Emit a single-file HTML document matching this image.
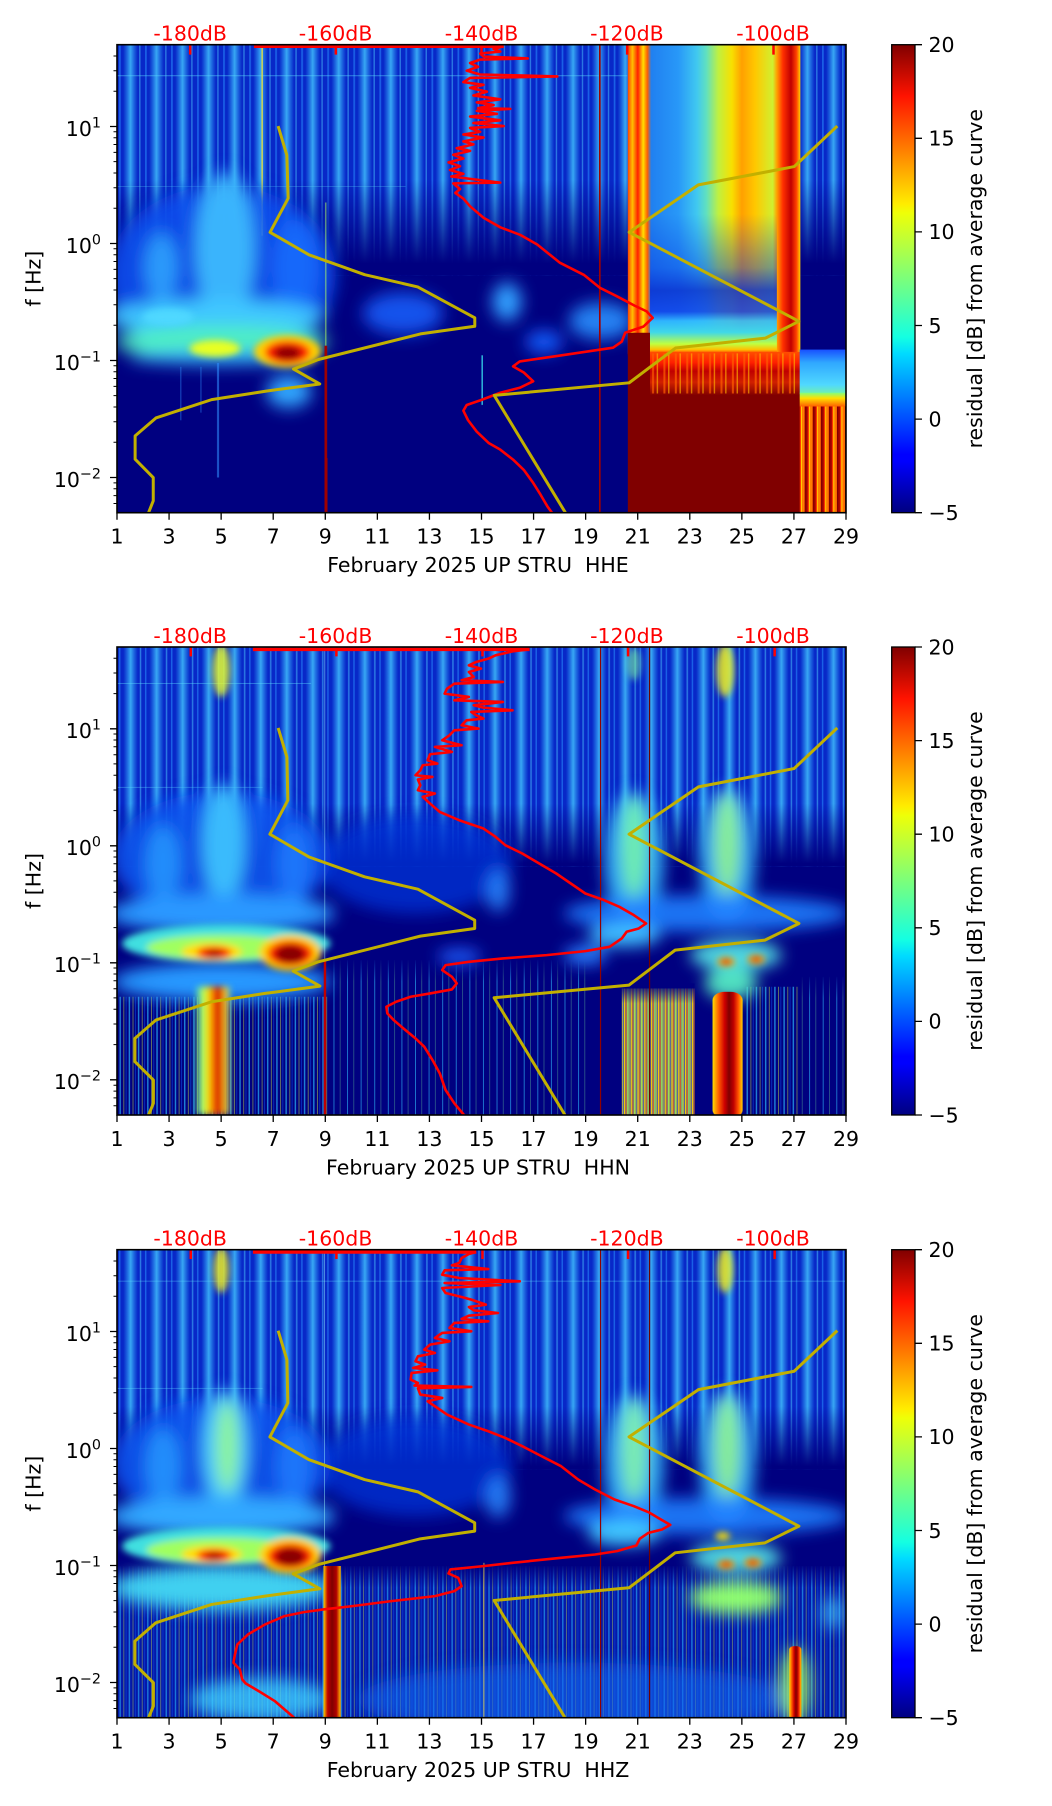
<!DOCTYPE html>
<html><head><meta charset="utf-8">
<style>
html,body{margin:0;padding:0;background:#fff;width:1052px;height:1806px;overflow:hidden}
svg{display:block}
text{font-family:"DejaVu Sans","Liberation Sans",sans-serif;font-size:20.5px;fill:#000}
text.rd{fill:#ff0000}
</style></head><body>
<svg xmlns="http://www.w3.org/2000/svg" width="1052" height="1806" viewBox="0 0 1052 1806">
<defs>
<linearGradient id="jet" x1="0" y1="0" x2="0" y2="1">
<stop offset="0" stop-color="#800000"/><stop offset=".11" stop-color="#ff1300"/><stop offset=".34" stop-color="#ffec00"/><stop offset=".36" stop-color="#eeff08"/><stop offset=".5" stop-color="#7bff7b"/><stop offset=".625" stop-color="#14ffe2"/><stop offset=".66" stop-color="#00dbff"/><stop offset=".875" stop-color="#0000ff"/><stop offset=".89" stop-color="#0000ff"/><stop offset="1" stop-color="#000080"/>
</linearGradient>
<linearGradient id="sh"><stop offset="0" stop-color="#30b0ff" stop-opacity="0"/><stop offset=".5" stop-color="#44c8ff" stop-opacity=".8"/><stop offset="1" stop-color="#30b0ff" stop-opacity="0"/></linearGradient>
<pattern id="p1" patternUnits="userSpaceOnUse" x="174" y="0" width="38.79" height="1400">
<rect x="9" y="0" width="22" height="1400" fill="url(#sh)"/>
<rect x="3" y="0" width="2.5" height="1400" fill="#2a90ff" opacity=".55"/>
<rect x="33" y="0" width="2" height="1400" fill="#50d0ff" opacity=".5"/>
</pattern>
<pattern id="p2" patternUnits="userSpaceOnUse" x="35" y="0" width="53.64" height="1500">
<rect x="13" y="0" width="30" height="1500" fill="url(#sh)"/>
<rect x="4" y="0" width="3" height="1500" fill="#2a90ff" opacity=".55"/>
<rect x="47" y="0" width="3" height="1500" fill="#50d0ff" opacity=".5"/>
</pattern>
<pattern id="pl" patternUnits="userSpaceOnUse" x="0" y="0" width="19" height="1500">
<rect x="2" y="0" width="3" height="1500" fill="#30c0ff" opacity=".65"/>
<rect x="10" y="0" width="2" height="1500" fill="#e0ff40" opacity=".45"/>
<rect x="15" y="0" width="1.5" height="1500" fill="#1060ff" opacity=".6"/>
</pattern>
<pattern id="ps" patternUnits="userSpaceOnUse" x="0" y="0" width="28" height="1500">
<rect x="5" y="0" width="2" height="1500" fill="#30c0ff" opacity=".6"/>
<rect x="18" y="0" width="1.5" height="1500" fill="#80ffa0" opacity=".4"/>
</pattern>
<pattern id="py" patternUnits="userSpaceOnUse" x="0" y="0" width="14" height="1500">
<rect x="0" y="0" width="14" height="1500" fill="#1840d0"/>
<rect x="1" y="0" width="3" height="1500" fill="#ffd000"/>
<rect x="5" y="0" width="2" height="1500" fill="#ff7000"/>
<rect x="8" y="0" width="2.5" height="1500" fill="#b0ff40"/>
<rect x="11.5" y="0" width="1.5" height="1500" fill="#ffe800"/>
</pattern>
<pattern id="pr" patternUnits="userSpaceOnUse" x="0" y="0" width="12" height="1500">
<rect x="0" y="0" width="12" height="1500" fill="#ff3800"/>
<rect x="0" y="0" width="3" height="1500" fill="#a00000"/>
<rect x="5" y="0" width="2" height="1500" fill="#ffd000"/>
<rect x="8" y="0" width="2" height="1500" fill="#ff8800"/>
<rect x="10.5" y="0" width="1.5" height="1500" fill="#800000"/>
</pattern>
<pattern id="po" patternUnits="userSpaceOnUse" x="0" y="0" width="17" height="1500">
<rect x="2" y="0" width="3" height="1500" fill="#ff6000"/>
<rect x="9" y="0" width="2" height="1500" fill="#ffb000"/>
</pattern>
<filter id="a1" x="-50%" y="-50%" width="200%" height="200%"><feGaussianBlur stdDeviation="5 9"/></filter>
<filter id="b1" x="-50%" y="-50%" width="200%" height="200%"><feGaussianBlur stdDeviation="12 22"/></filter>
<filter id="a2" x="-50%" y="-50%" width="200%" height="200%"><feGaussianBlur stdDeviation="7 10"/></filter>
<filter id="b2" x="-50%" y="-50%" width="200%" height="200%"><feGaussianBlur stdDeviation="16 24"/></filter>
<linearGradient id="c2" x1="0" y1="0" x2="1" y2="0"><stop offset="0" stop-color="#40e0e0" stop-opacity="0"/><stop offset=".15" stop-color="#80ff80"/><stop offset=".35" stop-color="#f0f000"/><stop offset=".55" stop-color="#ff4000"/><stop offset=".65" stop-color="#b00000"/><stop offset=".75" stop-color="#ff6000"/><stop offset=".9" stop-color="#e0f020"/><stop offset="1" stop-color="#40e0e0" stop-opacity="0"/></linearGradient>
<linearGradient id="rc2" x1="0" y1="0" x2="1" y2="0"><stop offset="0" stop-color="#ffe000"/><stop offset=".2" stop-color="#ff6000"/><stop offset=".4" stop-color="#d00000"/><stop offset=".55" stop-color="#800000"/><stop offset=".7" stop-color="#c00000"/><stop offset=".85" stop-color="#ff5000"/><stop offset="1" stop-color="#ffd000"/></linearGradient>
<linearGradient id="rc3" x1="0" y1="0" x2="1" y2="0"><stop offset="0" stop-color="#ffe000"/><stop offset=".25" stop-color="#c00000"/><stop offset=".5" stop-color="#800000"/><stop offset=".75" stop-color="#b00000"/><stop offset="1" stop-color="#ffc000"/></linearGradient>
<linearGradient id="nf" x1="0" y1="0" x2="0" y2="1"><stop offset="0" stop-color="#000080"/><stop offset="1" stop-color="#000080" stop-opacity="0"/></linearGradient>
<linearGradient id="fd1" gradientUnits="userSpaceOnUse" x1="0" y1="470" x2="0" y2="690"><stop offset="0" stop-color="#000080" stop-opacity="0"/><stop offset="1" stop-color="#000080"/></linearGradient>
<linearGradient id="fd2" gradientUnits="userSpaceOnUse" x1="0" y1="520" x2="0" y2="700"><stop offset="0" stop-color="#000080" stop-opacity="0"/><stop offset="1" stop-color="#000080"/></linearGradient>
<linearGradient id="rh1" gradientUnits="userSpaceOnUse" x1="935" y1="0" x2="1192" y2="0">
<stop offset="0" stop-color="#ff4000"/><stop offset=".027" stop-color="#ffc000"/><stop offset=".058" stop-color="#ff2000"/><stop offset=".089" stop-color="#ffe000"/><stop offset=".113" stop-color="#ff6000"/><stop offset=".136" stop-color="#2080f0"/><stop offset=".292" stop-color="#2898f8"/><stop offset=".4" stop-color="#40c8f0"/><stop offset=".455" stop-color="#60e0c0"/><stop offset=".525" stop-color="#c0f040"/><stop offset=".603" stop-color="#f8e000"/><stop offset=".661" stop-color="#ffa000"/><stop offset=".739" stop-color="#ffc800"/><stop offset=".84" stop-color="#d0f030"/><stop offset=".864" stop-color="#ffa000"/><stop offset=".899" stop-color="#ff3000"/><stop offset=".946" stop-color="#c00000"/><stop offset=".977" stop-color="#ff4000"/><stop offset="1" stop-color="#ffd000"/>
</linearGradient>
<linearGradient id="co1" gradientUnits="userSpaceOnUse" x1="0" y1="560" x2="0" y2="925">
<stop offset="0" stop-color="#0838e0" stop-opacity="0"/><stop offset=".384" stop-color="#0838e0" stop-opacity=".45"/><stop offset=".548" stop-color="#0a30d0" stop-opacity=".85"/><stop offset=".7" stop-color="#1040e8" stop-opacity=".85"/><stop offset=".767" stop-color="#30b8ff" stop-opacity=".9"/><stop offset=".849" stop-color="#40d8e8"/><stop offset=".932" stop-color="#c0ff40"/><stop offset=".973" stop-color="#ffc000"/><stop offset="1" stop-color="#ff4000"/>
</linearGradient>
<linearGradient id="fr1" gradientUnits="userSpaceOnUse" x1="0" y1="920" x2="0" y2="1035"><stop offset="0" stop-color="#ff5000"/><stop offset=".25" stop-color="#ff2000"/><stop offset=".45" stop-color="#c00000"/><stop offset=".7" stop-color="#d02000"/><stop offset="1" stop-color="#800000"/></linearGradient>
<linearGradient id="cb1" x1="0" y1="0" x2="0" y2="1"><stop offset="0" stop-color="#1850ff"/><stop offset=".3" stop-color="#30a8ff"/><stop offset=".8" stop-color="#50d8ff"/><stop offset="1" stop-color="#70f0b0"/></linearGradient>
<linearGradient id="yf1" x1="0" y1="0" x2="0" y2="1"><stop offset="0" stop-color="#80ff80"/><stop offset=".4" stop-color="#ffe000"/><stop offset="1" stop-color="#ff6000"/></linearGradient>
</defs>
<rect width="1052" height="1806" fill="#fff"/>

<!-- ================= CHART 1 ================= -->
<g transform="translate(0,44.7)">
<svg x="117" y="0" width="729" height="468" viewBox="174 117 1086 1225" preserveAspectRatio="none">
<rect x="174" y="117" width="1086" height="1225" fill="#000080"/>
<rect x="174" y="117" width="1086" height="603" fill="#0828c8"/>
<rect x="174" y="117" width="1086" height="603" fill="url(#p1)"/>
<rect x="174" y="470" width="1086" height="250" fill="url(#fd1)"/>
<rect x="174" y="197" width="760" height="2.5" fill="#60e0ff" opacity=".5"/>
<rect x="174" y="487" width="430" height="2" fill="#60e0ff" opacity=".35"/>
<rect x="389" y="117" width="2.5" height="500" fill="#e8e040" opacity=".8"/>
<g filter="url(#b1)">
<ellipse cx="330" cy="720" rx="170" ry="235" fill="#0a50f0" opacity=".9"/>
<ellipse cx="335" cy="650" rx="45" ry="200" fill="#40c0ff" opacity=".9"/>
<ellipse cx="240" cy="700" rx="26" ry="90" fill="#30a8ff" opacity=".85"/>
<ellipse cx="440" cy="700" rx="35" ry="130" fill="#1a70ff" opacity=".8"/>
<ellipse cx="320" cy="830" rx="165" ry="48" fill="#40c8ff"/>
<ellipse cx="330" cy="895" rx="160" ry="42" fill="#50f0c0"/>
<ellipse cx="330" cy="935" rx="140" ry="18" fill="#30b0ff"/>
<ellipse cx="430" cy="1025" rx="34" ry="42" fill="#30a8ff"/>
<ellipse cx="600" cy="820" rx="60" ry="55" fill="#1860ff" opacity=".85"/>
<ellipse cx="755" cy="790" rx="22" ry="50" fill="#30a0ff"/>
<ellipse cx="895" cy="840" rx="48" ry="48" fill="#2890ff" opacity=".9"/>
<ellipse cx="810" cy="895" rx="28" ry="28" fill="#1860ff"/>
</g>
<g filter="url(#a1)">
<ellipse cx="320" cy="912" rx="38" ry="22" fill="#e8ff20"/>
<ellipse cx="250" cy="830" rx="38" ry="22" fill="#50d8ff"/>
<ellipse cx="428" cy="920" rx="50" ry="42" fill="#ffd000"/>
<ellipse cx="428" cy="922" rx="34" ry="30" fill="#ff2000"/>
<ellipse cx="428" cy="924" rx="20" ry="18" fill="#900000"/>
</g>
<rect x="323" y="950" width="3" height="300" fill="#3090ff" opacity=".6"/>
<rect x="268" y="960" width="2" height="140" fill="#3090ff" opacity=".4"/>
<rect x="298" y="960" width="2" height="120" fill="#3090ff" opacity=".4"/>
<rect x="484" y="530" width="2" height="375" fill="#b0ff60" opacity=".6"/>
<rect x="483" y="905" width="4" height="437" fill="#a00000"/>
<rect x="717" y="930" width="2" height="130" fill="#40ffff" opacity=".8"/>
<rect x="892" y="117" width="2.5" height="1225" fill="#a00000"/>
<rect x="935" y="117" width="257" height="810" fill="url(#rh1)"/>
<rect x="968" y="560" width="189" height="365" fill="url(#co1)"/>
<rect x="935" y="871" width="33" height="60" fill="#800000"/>
<rect x="935" y="923" width="257" height="419" fill="#800000"/>
<rect x="968" y="921" width="224" height="114" fill="url(#fr1)"/>
<rect x="968" y="925" width="224" height="105" fill="url(#po)" opacity=".7"/>
<rect x="1191" y="915" width="69" height="115" fill="url(#cb1)"/>
<rect x="1191" y="1028" width="69" height="36" fill="url(#yf1)"/>
<rect x="1191" y="1064" width="69" height="278" fill="url(#pr)"/>
<polyline fill="none" stroke="#ff0000" stroke-width="2.6" vector-effect="non-scaling-stroke" stroke-linejoin="round" points="750,121 735,128 745,135 715,140 720,148 786,153 715,156 700,165 712,175 695,185 715,195 830,200 700,204 690,215 720,222 700,230 725,240 705,250 745,260 710,268 735,275 712,283 760,285 710,290 740,298 700,305 745,315 705,322 750,330 700,335 715,345 690,352 720,360 690,370 705,378 680,388 700,395 675,405 690,415 668,425 685,435 670,445 690,455 672,462 745,478 675,480 685,495 678,505 690,520 700,540 720,570 745,595 775,615 800,640 834,688 870,720 893,753 918,775 945,800 963,815 972,832 958,855 931,871 926,894 913,910 844,928 774,946 764,959 780,975 794,998 774,1015 745,1028 715,1048 695,1060 690,1075 697,1100 710,1130 728,1160 745,1177 764,1203 780,1230 794,1264 805,1295 815,1325 822,1342"/>
<polyline fill="none" stroke="#c2b000" stroke-width="3" vector-effect="non-scaling-stroke" stroke-linejoin="round" points="414,330 427,406 429,519 402,608 460,667 543,719 622,751 707,832 707,854 626,874 474,941 437,966 476,1005 395,1024 315,1046 232,1094 201,1141 201,1202 228,1250 228,1311 221,1342"/>
<polyline fill="none" stroke="#c2b000" stroke-width="3" vector-effect="non-scaling-stroke" stroke-linejoin="round" points="1247,330 1183,436 1040,484 937,608 1190,841 1140,885 1006,911 937,1002 736,1035 842,1342"/>
<line x1="378" y1="121" x2="750" y2="121" stroke="#ff0000" stroke-width="3.5" vector-effect="non-scaling-stroke"/>
<path d="M283,117V143M500,117V143M717,117V143M934,117V143M1152,117V143" stroke="#ff0000" stroke-width="2.5" vector-effect="non-scaling-stroke"/>
</svg>
<rect x="117" y="0" width="729" height="468" fill="none" stroke="#000" stroke-width="1.6"/>
<path d="M117,468v7M169.07,468v7M221.14,468v7M273.21,468v7M325.29,468v7M377.36,468v7M429.43,468v7M481.5,468v7M533.57,468v7M585.64,468v7M637.71,468v7M689.79,468v7M741.86,468v7M793.93,468v7M846,468v7M110,81.8h7M110,198.8h7M110,315.8h7M110,432.8h7" stroke="#000" stroke-width="1.3"/>
<path d="M113.5,11.3h3.5M113.5,26h3.5M113.5,46.6h3.5M113.5,87h3.5M113.5,93h3.5M113.5,99.8h3.5M113.5,107.7h3.5M113.5,116.9h3.5M113.5,128.3h3.5M113.5,143h3.5M113.5,163.6h3.5M113.5,204h3.5M113.5,210h3.5M113.5,216.8h3.5M113.5,224.7h3.5M113.5,233.9h3.5M113.5,245.3h3.5M113.5,260h3.5M113.5,280.6h3.5M113.5,321h3.5M113.5,327h3.5M113.5,333.8h3.5M113.5,341.7h3.5M113.5,350.9h3.5M113.5,362.3h3.5M113.5,377h3.5M113.5,397.6h3.5M113.5,438.2h3.5M113.5,444.1h3.5M113.5,450.9h3.5M113.5,458.8h3.5" stroke="#000" stroke-width="1"/>
<g text-anchor="middle">
<text x="117" y="499">1</text><text x="169.07" y="499">3</text><text x="221.14" y="499">5</text><text x="273.21" y="499">7</text><text x="325.29" y="499">9</text><text x="377.36" y="499">11</text><text x="429.43" y="499">13</text><text x="481.5" y="499">15</text><text x="533.57" y="499">17</text><text x="585.64" y="499">19</text><text x="637.71" y="499">21</text><text x="689.79" y="499">23</text><text x="741.86" y="499">25</text><text x="793.93" y="499">27</text><text x="846" y="499">29</text>
<text x="478" y="527.5">February 2025 UP STRU&#160; HHE</text>
</g>
<g text-anchor="middle">
<text class="rd" x="190.2" y="-4" style="fill:#ff0000">-180dB</text><text class="rd" x="335.6" y="-4" style="fill:#ff0000">-160dB</text><text class="rd" x="481.5" y="-4" style="fill:#ff0000">-140dB</text><text class="rd" x="626.9" y="-4" style="fill:#ff0000">-120dB</text><text class="rd" x="773" y="-4" style="fill:#ff0000">-100dB</text>
</g>
<g text-anchor="end">
<text x="101" y="91.1">10<tspan font-size="14.3" dy="-8.5">1</tspan></text>
<text x="101" y="208.1">10<tspan font-size="14.3" dy="-8.5">0</tspan></text>
<text x="101" y="325.1">10<tspan font-size="14.3" dy="-8.5">−1</tspan></text>
<text x="101" y="442.1">10<tspan font-size="14.3" dy="-8.5">−2</tspan></text>
</g>
<text transform="translate(40.5,234) rotate(-90)" text-anchor="middle">f [Hz]</text>
<rect x="891.7" y="0" width="23.3" height="468" fill="url(#jet)" stroke="#000" stroke-width="1.3"/>
<path d="M915,0h7M915,93.6h7M915,187.2h7M915,280.8h7M915,374.4h7M915,468h7" stroke="#000" stroke-width="1.3"/>
<text x="928.5" y="7.3">20</text><text x="928.5" y="100.9">15</text><text x="928.5" y="194.5">10</text><text x="928.5" y="288.1">5</text><text x="928.5" y="381.7">0</text><text x="928.5" y="475.3">−5</text>
<text transform="translate(982,234) rotate(-90)" text-anchor="middle">residual [dB] from average curve</text>
</g>

<!-- ================= CHART 2 ================= -->
<g transform="translate(0,647)">
<svg x="117" y="0" width="729" height="468" viewBox="35 50 1502 1405" preserveAspectRatio="none">
<rect x="35" y="50" width="1502" height="1405" fill="#000080"/>
<rect x="35" y="50" width="1502" height="660" fill="#0828c8"/>
<rect x="35" y="50" width="1502" height="660" fill="url(#p2)"/>
<rect x="35" y="520" width="1502" height="190" fill="url(#fd2)"/>
<rect x="35" y="158" width="400" height="3" fill="#60e0ff" opacity=".4"/>
<rect x="35" y="470" width="300" height="3" fill="#60e0ff" opacity=".35"/>
<g filter="url(#a2)">
<ellipse cx="250" cy="120" rx="18" ry="80" fill="#e8ff30" opacity=".85"/>
<ellipse cx="1288" cy="120" rx="18" ry="80" fill="#f0f020" opacity=".85"/>
<ellipse cx="1100" cy="100" rx="14" ry="50" fill="#80ffa0" opacity=".6"/>
</g>
<rect x="40" y="1100" width="430" height="355" fill="url(#pl)"/>
<rect x="470" y="990" width="540" height="465" fill="url(#ps)"/>
<rect x="1330" y="1070" width="110" height="385" fill="url(#pl)"/>
<rect x="1440" y="1040" width="97" height="415" fill="url(#ps)"/>
<rect x="470" y="985" width="540" height="70" fill="url(#nf)"/>
<rect x="1440" y="1035" width="97" height="70" fill="url(#nf)"/>
<g filter="url(#b2)">
<ellipse cx="250" cy="680" rx="225" ry="195" fill="#0c54f0" opacity=".9"/>
<ellipse cx="255" cy="640" rx="45" ry="180" fill="#40c8ff" opacity=".9"/>
<ellipse cx="130" cy="700" rx="38" ry="115" fill="#2898ff" opacity=".85"/>
<ellipse cx="400" cy="700" rx="38" ry="115" fill="#2080ff" opacity=".8"/>
<ellipse cx="650" cy="700" rx="200" ry="150" fill="#0838e0" opacity=".7"/>
<ellipse cx="250" cy="850" rx="235" ry="60" fill="#2a98ff"/>
<ellipse cx="820" cy="780" rx="25" ry="65" fill="#2888ff" opacity=".85"/>
<ellipse cx="1100" cy="690" rx="62" ry="205" fill="#30b8ff" opacity=".9"/>
<ellipse cx="1100" cy="650" rx="27" ry="155" fill="#80ffa0" opacity=".8"/>
<ellipse cx="1292" cy="680" rx="58" ry="205" fill="#30b8ff" opacity=".9"/>
<ellipse cx="1292" cy="640" rx="27" ry="155" fill="#a0ff80" opacity=".8"/>
<ellipse cx="1250" cy="850" rx="295" ry="55" fill="#2080ff" opacity=".9"/>
<ellipse cx="250" cy="1055" rx="225" ry="58" fill="#2898ff"/>
<ellipse cx="1080" cy="915" rx="75" ry="34" fill="#40c0ff"/>
<ellipse cx="1000" cy="975" rx="45" ry="28" fill="#2a80ff"/>
<ellipse cx="1310" cy="975" rx="95" ry="45" fill="#50d8e0"/>
<ellipse cx="1300" cy="1060" rx="55" ry="48" fill="#50e0c0"/>
<ellipse cx="740" cy="980" rx="45" ry="22" fill="#2060ff"/>
</g>
<rect x="1075" y="1075" width="150" height="380" fill="url(#py)"/>
<rect x="1075" y="1060" width="150" height="60" fill="url(#nf)"/>
<g filter="url(#a2)"><rect x="195" y="1070" width="75" height="385" fill="url(#c2)"/></g>
<rect x="1262" y="1085" width="62" height="380" rx="25" fill="url(#rc2)"/>
<g filter="url(#a2)">
<ellipse cx="260" cy="940" rx="215" ry="58" fill="#40e0e0"/>
<ellipse cx="250" cy="952" rx="155" ry="38" fill="#a0ff60"/>
<ellipse cx="230" cy="965" rx="62" ry="26" fill="#ffe000"/>
<ellipse cx="235" cy="968" rx="36" ry="19" fill="#ff2000"/>
<ellipse cx="235" cy="970" rx="18" ry="10" fill="#a00000"/>
<ellipse cx="392" cy="968" rx="64" ry="54" fill="#ffd000"/>
<ellipse cx="392" cy="970" rx="47" ry="38" fill="#ff2000"/>
<ellipse cx="392" cy="972" rx="31" ry="27" fill="#8a0000"/>
<ellipse cx="1290" cy="995" rx="18" ry="14" fill="#ffa000"/>
<ellipse cx="1290" cy="995" rx="10" ry="8" fill="#e00000"/>
<ellipse cx="1352" cy="988" rx="18" ry="14" fill="#ffa000"/>
<ellipse cx="1352" cy="988" rx="10" ry="8" fill="#e00000"/>
</g>
<rect x="462" y="50" width="2" height="940" fill="#a0ffff" opacity=".45"/>
<rect x="461" y="990" width="5" height="465" fill="#c00000"/>
<rect x="1030" y="50" width="2.5" height="1405" fill="#900000"/>
<rect x="1131" y="50" width="2.5" height="1405" fill="#700000"/>
<polyline fill="none" stroke="#ff0000" stroke-width="2.6" vector-effect="non-scaling-stroke" stroke-linejoin="round" points="885,57 850,63 815,75 800,85 775,95 760,105 785,115 760,125 770,140 745,150 830,155 730,160 715,175 710,190 760,200 730,210 830,215 770,225 790,232 850,240 765,245 775,255 790,265 755,270 745,285 780,295 730,300 720,315 705,330 745,345 690,350 725,365 680,372 675,390 695,400 665,405 660,420 650,435 685,440 655,448 660,465 655,480 690,490 665,500 680,520 700,545 740,570 790,595 815,620 835,645 870,670 905,700 940,730 970,760 1000,790 1035,808 1070,830 1100,855 1125,880 1110,895 1085,905 1075,925 1050,950 1000,963 920,975 830,985 760,995 712,1005 705,1020 725,1040 735,1060 725,1078 680,1090 640,1100 610,1115 590,1130 592,1150 605,1170 625,1195 650,1225 668,1250 685,1290 700,1330 712,1380 730,1420 750,1455"/>
<polyline fill="none" stroke="#c2b000" stroke-width="3" vector-effect="non-scaling-stroke" stroke-linejoin="round" points="367,293 385,380 387,510 350,612 430,680 545,740 655,777 772,870 772,895 660,918 450,995 398,1023 453,1068 340,1090 230,1115 115,1170 72,1225 72,1295 110,1350 110,1420 100,1455"/>
<polyline fill="none" stroke="#c2b000" stroke-width="3" vector-effect="non-scaling-stroke" stroke-linejoin="round" points="1519,293 1430,415 1233,470 1090,612 1440,880 1370,930 1185,960 1090,1065 812,1103 958,1455"/>
<line x1="315" y1="57" x2="885" y2="57" stroke="#ff0000" stroke-width="3.5" vector-effect="non-scaling-stroke"/>
<path d="M187,50V78M487,50V78M788,50V78M1088,50V78M1390,50V78" stroke="#ff0000" stroke-width="2.5" vector-effect="non-scaling-stroke"/>
</svg>
<rect x="117" y="0" width="729" height="468" fill="none" stroke="#000" stroke-width="1.6"/>
<path d="M117,468v7M169.07,468v7M221.14,468v7M273.21,468v7M325.29,468v7M377.36,468v7M429.43,468v7M481.5,468v7M533.57,468v7M585.64,468v7M637.71,468v7M689.79,468v7M741.86,468v7M793.93,468v7M846,468v7M110,81.8h7M110,198.8h7M110,315.8h7M110,432.8h7" stroke="#000" stroke-width="1.3"/>
<path d="M113.5,11.3h3.5M113.5,26h3.5M113.5,46.6h3.5M113.5,87h3.5M113.5,93h3.5M113.5,99.8h3.5M113.5,107.7h3.5M113.5,116.9h3.5M113.5,128.3h3.5M113.5,143h3.5M113.5,163.6h3.5M113.5,204h3.5M113.5,210h3.5M113.5,216.8h3.5M113.5,224.7h3.5M113.5,233.9h3.5M113.5,245.3h3.5M113.5,260h3.5M113.5,280.6h3.5M113.5,321h3.5M113.5,327h3.5M113.5,333.8h3.5M113.5,341.7h3.5M113.5,350.9h3.5M113.5,362.3h3.5M113.5,377h3.5M113.5,397.6h3.5M113.5,438.2h3.5M113.5,444.1h3.5M113.5,450.9h3.5M113.5,458.8h3.5" stroke="#000" stroke-width="1"/>
<g text-anchor="middle">
<text x="117" y="499">1</text><text x="169.07" y="499">3</text><text x="221.14" y="499">5</text><text x="273.21" y="499">7</text><text x="325.29" y="499">9</text><text x="377.36" y="499">11</text><text x="429.43" y="499">13</text><text x="481.5" y="499">15</text><text x="533.57" y="499">17</text><text x="585.64" y="499">19</text><text x="637.71" y="499">21</text><text x="689.79" y="499">23</text><text x="741.86" y="499">25</text><text x="793.93" y="499">27</text><text x="846" y="499">29</text>
<text x="478" y="527.5">February 2025 UP STRU&#160; HHN</text>
</g>
<g text-anchor="middle">
<text class="rd" x="190.2" y="-4" style="fill:#ff0000">-180dB</text><text class="rd" x="335.6" y="-4" style="fill:#ff0000">-160dB</text><text class="rd" x="481.5" y="-4" style="fill:#ff0000">-140dB</text><text class="rd" x="626.9" y="-4" style="fill:#ff0000">-120dB</text><text class="rd" x="773" y="-4" style="fill:#ff0000">-100dB</text>
</g>
<g text-anchor="end">
<text x="101" y="91.1">10<tspan font-size="14.3" dy="-8.5">1</tspan></text>
<text x="101" y="208.1">10<tspan font-size="14.3" dy="-8.5">0</tspan></text>
<text x="101" y="325.1">10<tspan font-size="14.3" dy="-8.5">−1</tspan></text>
<text x="101" y="442.1">10<tspan font-size="14.3" dy="-8.5">−2</tspan></text>
</g>
<text transform="translate(40.5,234) rotate(-90)" text-anchor="middle">f [Hz]</text>
<rect x="891.7" y="0" width="23.3" height="468" fill="url(#jet)" stroke="#000" stroke-width="1.3"/>
<path d="M915,0h7M915,93.6h7M915,187.2h7M915,280.8h7M915,374.4h7M915,468h7" stroke="#000" stroke-width="1.3"/>
<text x="928.5" y="7.3">20</text><text x="928.5" y="100.9">15</text><text x="928.5" y="194.5">10</text><text x="928.5" y="288.1">5</text><text x="928.5" y="381.7">0</text><text x="928.5" y="475.3">−5</text>
<text transform="translate(982,234) rotate(-90)" text-anchor="middle">residual [dB] from average curve</text>
</g>

<!-- ================= CHART 3 ================= -->
<g transform="translate(0,1249.7)">
<svg x="117" y="0" width="729" height="468" viewBox="35 50 1502 1405" preserveAspectRatio="none">
<rect x="35" y="50" width="1502" height="1405" fill="#000080"/>
<rect x="35" y="50" width="1502" height="660" fill="#0828c8"/>
<rect x="35" y="50" width="1502" height="660" fill="url(#p2)"/>
<rect x="35" y="520" width="1502" height="190" fill="url(#fd2)"/>
<rect x="35" y="143" width="1500" height="3" fill="#60e0ff" opacity=".35"/>
<rect x="35" y="465" width="300" height="3" fill="#60e0ff" opacity=".35"/>
<g filter="url(#a2)">
<ellipse cx="250" cy="110" rx="16" ry="70" fill="#f0f020" opacity=".85"/>
<ellipse cx="1288" cy="110" rx="16" ry="70" fill="#f0f020" opacity=".85"/>
</g>
<rect x="35" y="1000" width="1502" height="455" fill="#0830d0" opacity=".5"/>
<rect x="35" y="1000" width="1502" height="455" fill="url(#pl)" opacity=".85"/>
<rect x="35" y="995" width="1502" height="70" fill="url(#nf)"/>
<g filter="url(#b2)">
<ellipse cx="250" cy="690" rx="225" ry="195" fill="#0c54f0" opacity=".9"/>
<ellipse cx="258" cy="650" rx="48" ry="180" fill="#50d8ff" opacity=".9"/>
<ellipse cx="262" cy="640" rx="22" ry="135" fill="#a0ff80" opacity=".8"/>
<ellipse cx="130" cy="700" rx="38" ry="115" fill="#2898ff" opacity=".85"/>
<ellipse cx="400" cy="700" rx="38" ry="115" fill="#2080ff" opacity=".8"/>
<ellipse cx="650" cy="700" rx="200" ry="150" fill="#0838e0" opacity=".7"/>
<ellipse cx="250" cy="850" rx="235" ry="60" fill="#30a8ff"/>
<ellipse cx="820" cy="790" rx="27" ry="65" fill="#2888ff" opacity=".85"/>
<ellipse cx="1100" cy="690" rx="62" ry="205" fill="#30b8ff" opacity=".9"/>
<ellipse cx="1100" cy="650" rx="27" ry="155" fill="#90ffa0" opacity=".8"/>
<ellipse cx="1292" cy="680" rx="58" ry="205" fill="#30b8ff" opacity=".9"/>
<ellipse cx="1292" cy="640" rx="27" ry="155" fill="#a0ff80" opacity=".8"/>
<ellipse cx="1250" cy="850" rx="295" ry="55" fill="#2080ff" opacity=".9"/>
<ellipse cx="1080" cy="900" rx="75" ry="38" fill="#40c8ff"/>
<ellipse cx="1310" cy="975" rx="95" ry="45" fill="#50d8e0"/>
<ellipse cx="1310" cy="1095" rx="95" ry="48" fill="#90ff70"/>
<ellipse cx="250" cy="1065" rx="225" ry="68" fill="#40d0f0"/>
<ellipse cx="330" cy="1400" rx="145" ry="65" fill="#40d0ff" opacity=".8"/>
<ellipse cx="980" cy="1400" rx="450" ry="110" fill="#1868f0" opacity=".6"/>
<ellipse cx="1432" cy="1360" rx="32" ry="115" fill="#a0ff60" opacity=".8"/>
<ellipse cx="1510" cy="1140" rx="25" ry="50" fill="#40c0ff" opacity=".7"/>
</g>
<rect x="460" y="1000" width="36" height="455" fill="url(#rc3)"/>
<rect x="1420" y="1240" width="25" height="225" rx="10" fill="url(#rc2)"/>
<g filter="url(#a2)">
<ellipse cx="260" cy="940" rx="215" ry="58" fill="#40e0e0"/>
<ellipse cx="250" cy="952" rx="155" ry="38" fill="#a0ff60"/>
<ellipse cx="230" cy="965" rx="62" ry="26" fill="#ffe000"/>
<ellipse cx="235" cy="968" rx="36" ry="19" fill="#ff2000"/>
<ellipse cx="235" cy="970" rx="18" ry="10" fill="#a00000"/>
<ellipse cx="392" cy="968" rx="64" ry="54" fill="#ffd000"/>
<ellipse cx="392" cy="970" rx="47" ry="38" fill="#ff2000"/>
<ellipse cx="392" cy="972" rx="31" ry="27" fill="#8a0000"/>
<ellipse cx="1283" cy="910" rx="15" ry="12" fill="#ffe000"/>
<ellipse cx="1290" cy="995" rx="18" ry="14" fill="#ffa000"/>
<ellipse cx="1290" cy="995" rx="10" ry="8" fill="#e00000"/>
<ellipse cx="1345" cy="990" rx="18" ry="14" fill="#ffa000"/>
<ellipse cx="1345" cy="990" rx="10" ry="8" fill="#e00000"/>
</g>
<rect x="462" y="50" width="2" height="950" fill="#a0ffff" opacity=".45"/>
<rect x="790" y="990" width="2" height="465" fill="#ffe040" opacity=".7"/>
<rect x="1030" y="50" width="2.5" height="1405" fill="#900000"/>
<rect x="1131" y="50" width="2.5" height="1405" fill="#700000"/>
<polyline fill="none" stroke="#ff0000" stroke-width="2.6" vector-effect="non-scaling-stroke" stroke-linejoin="round" points="775,57 760,63 745,75 740,90 725,97 800,108 710,112 705,125 740,135 865,145 710,150 825,156 705,165 712,180 740,190 765,200 795,215 760,222 770,232 820,240 760,248 745,258 800,265 730,270 720,285 765,295 705,300 690,315 720,325 680,335 668,350 690,360 655,370 650,385 670,395 645,405 695,412 642,420 640,440 655,450 648,458 765,462 655,466 660,485 705,495 675,505 690,520 715,545 760,575 800,595 835,615 870,640 910,670 950,700 985,740 1020,770 1060,800 1100,820 1130,838 1150,855 1175,876 1158,890 1130,900 1112,918 1105,938 1065,955 1020,965 950,975 850,990 790,1000 722,1010 718,1022 738,1035 745,1060 730,1075 690,1090 600,1105 520,1120 460,1130 420,1138 380,1150 340,1175 305,1205 283,1235 278,1265 275,1290 288,1310 293,1340 300,1352 330,1378 360,1405 400,1455"/>
<polyline fill="none" stroke="#c2b000" stroke-width="3" vector-effect="non-scaling-stroke" stroke-linejoin="round" points="367,293 385,380 387,510 350,612 430,680 545,740 655,777 772,870 772,895 660,918 450,995 398,1023 453,1068 340,1090 230,1115 115,1170 72,1225 72,1295 110,1350 110,1420 100,1455"/>
<polyline fill="none" stroke="#c2b000" stroke-width="3" vector-effect="non-scaling-stroke" stroke-linejoin="round" points="1519,293 1430,415 1233,470 1090,612 1440,880 1370,930 1185,960 1090,1065 812,1103 958,1455"/>
<line x1="315" y1="57" x2="775" y2="57" stroke="#ff0000" stroke-width="3.5" vector-effect="non-scaling-stroke"/>
<path d="M187,50V78M487,50V78M788,50V78M1088,50V78M1390,50V78" stroke="#ff0000" stroke-width="2.5" vector-effect="non-scaling-stroke"/>
</svg>
<rect x="117" y="0" width="729" height="468" fill="none" stroke="#000" stroke-width="1.6"/>
<path d="M117,468v7M169.07,468v7M221.14,468v7M273.21,468v7M325.29,468v7M377.36,468v7M429.43,468v7M481.5,468v7M533.57,468v7M585.64,468v7M637.71,468v7M689.79,468v7M741.86,468v7M793.93,468v7M846,468v7M110,81.8h7M110,198.8h7M110,315.8h7M110,432.8h7" stroke="#000" stroke-width="1.3"/>
<path d="M113.5,11.3h3.5M113.5,26h3.5M113.5,46.6h3.5M113.5,87h3.5M113.5,93h3.5M113.5,99.8h3.5M113.5,107.7h3.5M113.5,116.9h3.5M113.5,128.3h3.5M113.5,143h3.5M113.5,163.6h3.5M113.5,204h3.5M113.5,210h3.5M113.5,216.8h3.5M113.5,224.7h3.5M113.5,233.9h3.5M113.5,245.3h3.5M113.5,260h3.5M113.5,280.6h3.5M113.5,321h3.5M113.5,327h3.5M113.5,333.8h3.5M113.5,341.7h3.5M113.5,350.9h3.5M113.5,362.3h3.5M113.5,377h3.5M113.5,397.6h3.5M113.5,438.2h3.5M113.5,444.1h3.5M113.5,450.9h3.5M113.5,458.8h3.5" stroke="#000" stroke-width="1"/>
<g text-anchor="middle">
<text x="117" y="499">1</text><text x="169.07" y="499">3</text><text x="221.14" y="499">5</text><text x="273.21" y="499">7</text><text x="325.29" y="499">9</text><text x="377.36" y="499">11</text><text x="429.43" y="499">13</text><text x="481.5" y="499">15</text><text x="533.57" y="499">17</text><text x="585.64" y="499">19</text><text x="637.71" y="499">21</text><text x="689.79" y="499">23</text><text x="741.86" y="499">25</text><text x="793.93" y="499">27</text><text x="846" y="499">29</text>
<text x="478" y="527.5">February 2025 UP STRU&#160; HHZ</text>
</g>
<g text-anchor="middle">
<text class="rd" x="190.2" y="-4" style="fill:#ff0000">-180dB</text><text class="rd" x="335.6" y="-4" style="fill:#ff0000">-160dB</text><text class="rd" x="481.5" y="-4" style="fill:#ff0000">-140dB</text><text class="rd" x="626.9" y="-4" style="fill:#ff0000">-120dB</text><text class="rd" x="773" y="-4" style="fill:#ff0000">-100dB</text>
</g>
<g text-anchor="end">
<text x="101" y="91.1">10<tspan font-size="14.3" dy="-8.5">1</tspan></text>
<text x="101" y="208.1">10<tspan font-size="14.3" dy="-8.5">0</tspan></text>
<text x="101" y="325.1">10<tspan font-size="14.3" dy="-8.5">−1</tspan></text>
<text x="101" y="442.1">10<tspan font-size="14.3" dy="-8.5">−2</tspan></text>
</g>
<text transform="translate(40.5,234) rotate(-90)" text-anchor="middle">f [Hz]</text>
<rect x="891.7" y="0" width="23.3" height="468" fill="url(#jet)" stroke="#000" stroke-width="1.3"/>
<path d="M915,0h7M915,93.6h7M915,187.2h7M915,280.8h7M915,374.4h7M915,468h7" stroke="#000" stroke-width="1.3"/>
<text x="928.5" y="7.3">20</text><text x="928.5" y="100.9">15</text><text x="928.5" y="194.5">10</text><text x="928.5" y="288.1">5</text><text x="928.5" y="381.7">0</text><text x="928.5" y="475.3">−5</text>
<text transform="translate(982,234) rotate(-90)" text-anchor="middle">residual [dB] from average curve</text>
</g>
</svg>
</body></html>
